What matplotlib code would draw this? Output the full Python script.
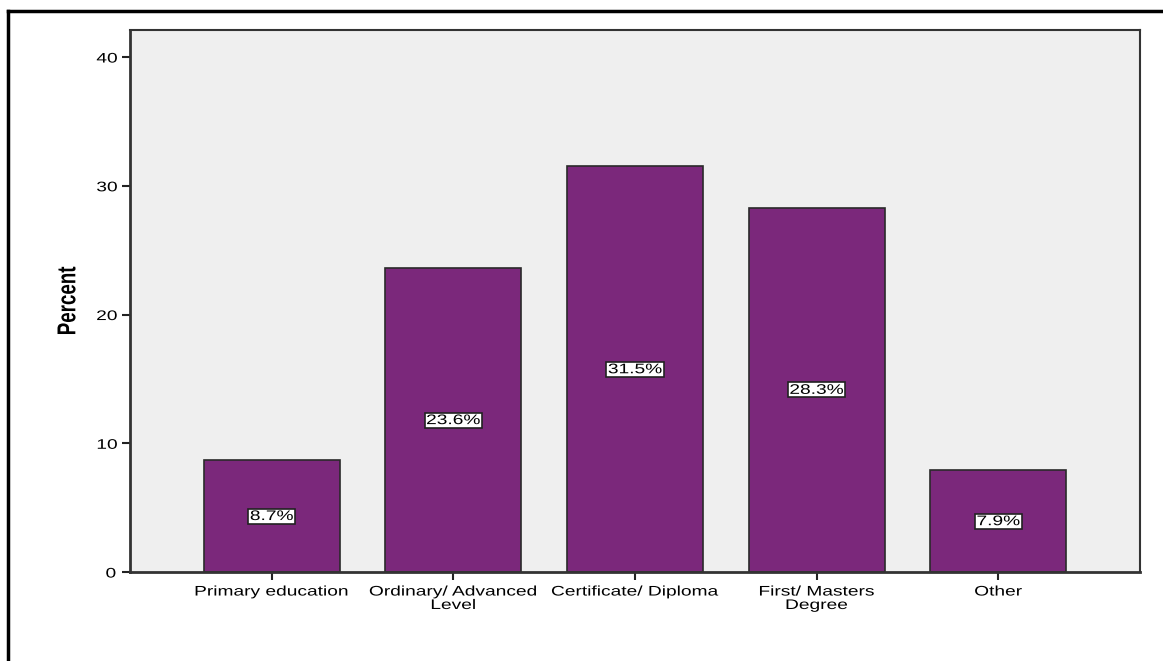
import matplotlib.pyplot as plt
from matplotlib.lines import Line2D
from matplotlib.path import Path
from matplotlib.patheffects import AbstractPathEffect
from matplotlib.transforms import Affine2D

# Education level distribution (percent)
categories = ['Primary education', 'Ordinary/ Advanced\nLevel', 'Certificate/ Diploma',
              'First/ Masters\nDegree', 'Other']
percents = [8.7, 23.6, 31.5, 28.3, 7.9]
yticks = [0, 10, 20, 30, 40]

plt.rcParams['font.family'] = ['Liberation Sans', 'DejaVu Sans']

SX = 1.38  # wide glyphs, like the SPSS output


class Stretch(AbstractPathEffect):
    """Scale a text path about its own centre."""

    def __init__(self, sx=1.0, sy=1.0):
        super().__init__()
        self.sx = sx
        self.sy = sy

    def draw_path(self, renderer, gc, tpath, affine, rgbFace=None):
        ext = tpath.get_extents()
        cx = (ext.x0 + ext.x1) / 2
        cy = (ext.y0 + ext.y1) / 2
        pre = Affine2D().translate(-cx, -cy).scale(self.sx, self.sy).translate(cx, cy)
        renderer.draw_path(gc, tpath, pre + affine, rgbFace)


def wide_box(x0, y0, width, height, mutation_size):
    # white label box widened to fit the stretched text
    cx = x0 + width / 2
    w = width * SX + 3
    y0 -= 0.5
    h = height + 1
    verts = [(cx - w / 2, y0), (cx + w / 2, y0), (cx + w / 2, y0 + h),
             (cx - w / 2, y0 + h), (cx - w / 2, y0)]
    return Path(verts, closed=True)


fig = plt.figure(figsize=(11.63, 6.61), dpi=100)
ax = fig.add_axes([0.1118, 0.1346, 0.8684, 0.82])
ax.set_facecolor('#efefef')

x = range(len(categories))
ax.bar(x, percents, width=0.75, color='#7b287b', edgecolor='#2a2a2a', linewidth=1.2)

# percentage label in the middle of each bar
for xi, v in zip(x, percents):
    ax.text(xi, v / 2, f'{v}%', ha='center', va='center', fontsize=10,
            color='black', path_effects=[Stretch(SX)],
            bbox=dict(boxstyle=wide_box, facecolor='white',
                      edgecolor='#222222', linewidth=1.2))

ax.set_xlim(-0.78, 4.78)
ax.set_ylim(0, 42.1)
ax.set_xticks(list(x))
ax.set_xticklabels(categories, fontsize=10, linespacing=0.95)
ax.set_yticks(yticks)
ax.tick_params(axis='both', direction='out', length=6, width=1.5, colors='#222222',
               labelcolor='black', labelsize=10)
ax.tick_params(axis='x', pad=3)
ax.tick_params(axis='y', pad=5)
for lbl in ax.get_xticklabels() + ax.get_yticklabels():
    lbl.set_path_effects([Stretch(SX)])

ax.set_ylabel('Percent', fontsize=13.5, fontweight='bold', labelpad=16,
              path_effects=[Stretch(1.0, SX)])

for s in ax.spines.values():
    s.set_color('#333333')
    s.set_linewidth(1.5)
ax.spines['left'].set_linewidth(2)
ax.spines['bottom'].set_linewidth(2)

# outer frame (top and left edges)
fig.add_artist(Line2D([0.007, 0.007], [0, 0.984], transform=fig.transFigure,
                      color='black', linewidth=2.5))
fig.add_artist(Line2D([0.007, 1.0], [0.984, 0.984], transform=fig.transFigure,
                      color='black', linewidth=2.5))

fig.savefig('out.png', dpi=100)
